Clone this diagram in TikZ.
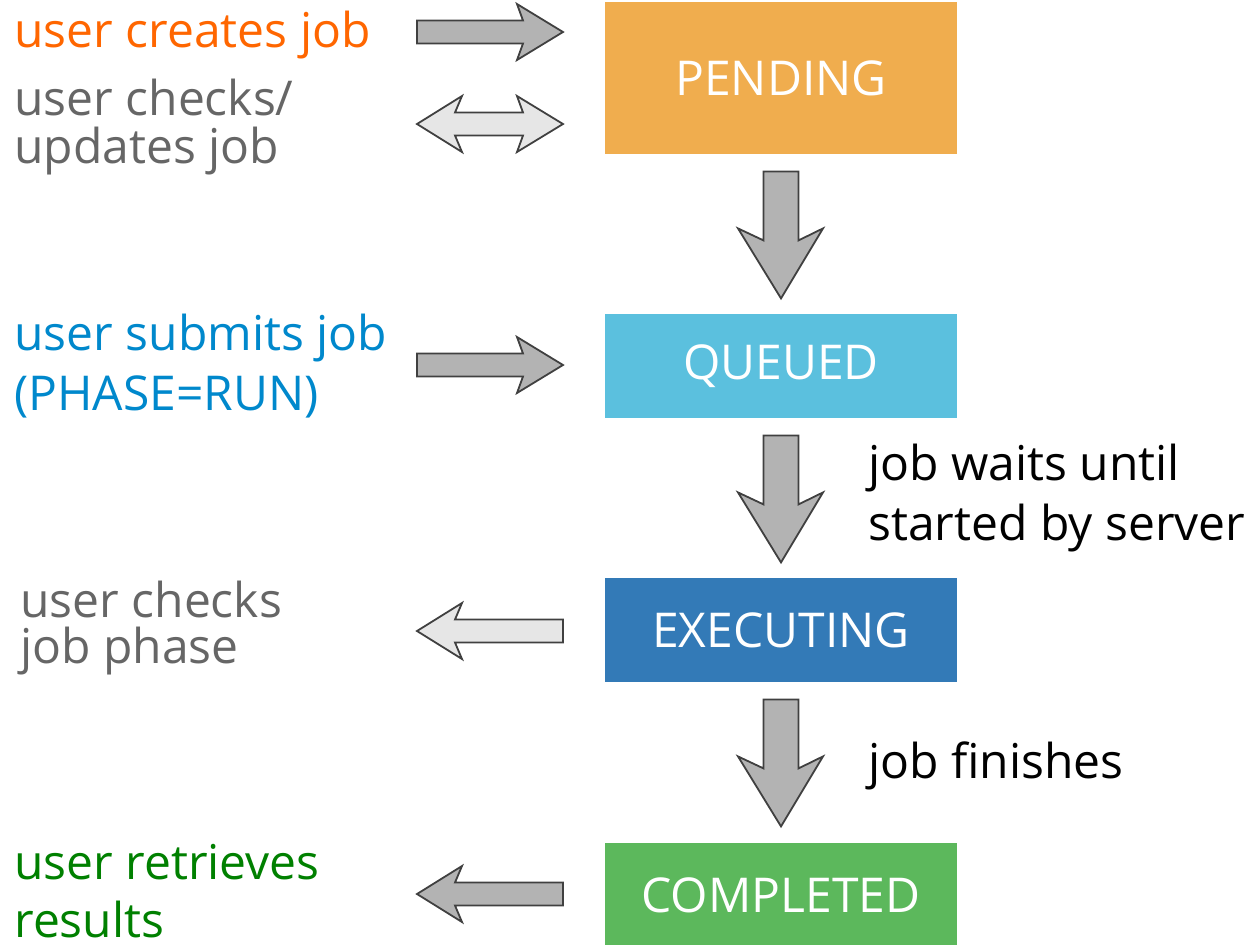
\documentclass[tikz,border=0pt]{standalone}
\usepackage{fontspec}
\setmainfont{Open Sans}
\usetikzlibrary{calc}

\definecolor{pendingc}{HTML}{F0AD4E}
\definecolor{queuedc}{HTML}{5BC0DE}
\definecolor{executingc}{HTML}{337AB7}
\definecolor{completedc}{HTML}{5CB85C}
\definecolor{createc}{HTML}{FF6600}
\definecolor{checkc}{HTML}{666666}
\definecolor{submitc}{HTML}{0088CC}
\definecolor{retrievec}{HTML}{008000}
\definecolor{arrowdark}{HTML}{B3B3B3}
\definecolor{arrowlight}{HTML}{E6E6E6}
\definecolor{arrowedge}{HTML}{404040}

% one unit of the picture is 0.5pt
\tikzset{
  phasebox/.style={minimum width=176pt, minimum height=52pt, inner sep=0pt,
    text=white, font=\fontsize{24}{28}\selectfont},
  label/.style={anchor=base west, inner sep=0pt, align=left},
  blockdark/.style={fill=arrowdark, draw=arrowedge, line width=0.9pt, line join=miter},
  blocklight/.style={fill=arrowlight, draw=arrowedge, line width=0.9pt, line join=miter},
  pics/rightarrow/.style={code={
    \draw[pic actions] (0,-11.5) -- (106,-11.5) -- (100,-28) -- (146,0)
      -- (100,28) -- (106,11.5) -- (0,11.5) -- cycle;}},
  pics/leftarrow/.style={code={
    \draw[pic actions] (0,0) -- (45,-28) -- (38,-11.5) -- (146,-11.5)
      -- (146,11.5) -- (38,11.5) -- (45,28) -- cycle;}},
  pics/botharrow/.style={code={
    \draw[pic actions] (0,0) -- (45,-28) -- (38,-11.5) -- (106,-11.5)
      -- (100,-28) -- (146,0) -- (100,28) -- (106,11.5) -- (38,11.5)
      -- (45,28) -- cycle;}},
  pics/downarrow/.style={code={
    \draw[pic actions] (-17.5,0) -- (17.5,0) -- (17.5,69) -- (42,57)
      -- (0,127) -- (-43,57) -- (-17.5,69) -- cycle;}},
}

\begin{document}
\begin{tikzpicture}[x=0.5pt, y=-0.5pt]
  \useasboundingbox (0,0) rectangle (1254,944);

  % job phases
  \node[phasebox, fill=pendingc, minimum height=76pt] (pending) at (781,78) {PENDING};
  \node[phasebox, fill=queuedc] (queued) at (781,366) {QUEUED};
  \node[phasebox, fill=executingc] (executing) at (781,630) {EXECUTING};
  \node[phasebox, fill=completedc] (completed) at (781,895) {COMPLETED};

  % transitions between phases
  \pic[blockdark] at ($(pending.south)+(0,17)$) {downarrow};
  \pic[blockdark] at ($(queued.south)+(0,17)$) {downarrow};
  \pic[blockdark] at ($(executing.south)+(0,17)$) {downarrow};

  % user interactions
  \pic[blockdark] at (417,32) {rightarrow};
  \pic[blocklight] at (417,124) {botharrow};
  \pic[blockdark] at (417,365) {rightarrow};
  \pic[blocklight] at (417,631) {leftarrow};
  \pic[blockdark] at (417,894) {leftarrow};

  % texts (multi-line labels are placed by their last baseline)
  \begin{scope}[every node/.append style={font=\fontsize{24}{28}\selectfont}]
    \node[label, text=createc] (create) at (14,47) {user creates job};
    \node[label, text=checkc, font=\fontsize{24}{24}\selectfont] (update) at (14,163)
      {user checks/\\updates job};
    \node[label, text=submitc, font=\fontsize{24}{30}\selectfont] (submit) at (14,410)
      {user submits job\\(PHASE=RUN)};
    \node[label, text=black, font=\fontsize{24}{30}\selectfont] (waits) at (868,540)
      {job waits until\\started by server};
    \node[label, text=checkc, font=\fontsize{24}{23}\selectfont] (phase) at (20,663)
      {user checks\\job phase};
    \node[label, text=black] (finishes) at (868,778) {job finishes};
    \node[label, text=retrievec, font=\fontsize{24}{29}\selectfont] (retrieve) at (14,937)
      {user retrieves\\results};
  \end{scope}
\end{tikzpicture}
\end{document}
